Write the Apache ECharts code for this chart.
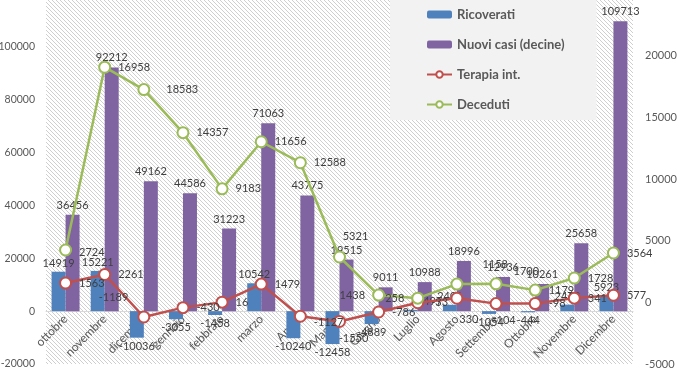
<!DOCTYPE html>
<html>
<head>
<meta charset="utf-8">
<script src="https://cdn.jsdelivr.net/npm/echarts@6/dist/echarts.min.js"></script>
<style>html,body{margin:0;padding:0;background:#fff}#c{width:680px;height:375px}</style>
</head>
<body>
<div id="c"></div>
<script>
const categories = ['ottobre','novembre','dicembre','gennaio','febbraio','marzo','Aprile','Maggio','Giugno','Luglio','Agosto','Settembre','Ottobre','Novembre','Dicembre'];
const ricoverati = [14919, 15221, -10036, -3055, -1458, 10542, -10240, -12458, -4889, 497, 2401, -1054, -444, 2473, 5923];
const nuoviCasi = [36456, 92212, 49162, 44586, 31223, 71063, 43775, 19515, 9011, 10988, 18996, 12936, 10261, 25658, 109713];
const terapia = [1563, 2261, -1189, -430, 16, 1479, -1127, -1550, -786, -33, 330, -104, -98, 341, 577];
const deceduti = [4244, 19065, 17250, 13755, 9200, 13020, 11320, 3675, 585, 340, 1480, 1500, 990, 1970, 4000];
const decedutiLabels = ['2724','16958','18583','14357','9183','11656','12588','5321','1438','258','1158','1700','1179','1728','3564'];
const leftTicks = [-20000, 120000, 20000];
const rightTicks = [-5000, 25000, 5000];

const FONT = 'Lato, "Liberation Sans", sans-serif';
const LBL = '#404040';
const W = 680, H = 375;
const GRID = {left:46, right:47, top:-6, bottom:11};
// put the category axis on the left axis' zero line
const gridH = H - GRID.top - GRID.bottom;
const zeroOffset = -gridH * (0 - leftTicks[0]) / (leftTicks[1] - leftTicks[0]);

// hatch pattern for plot area
const pc = document.createElement('canvas');
pc.width = 4; pc.height = 4;
const pctx = pc.getContext('2d');
pctx.fillStyle = '#ffffff'; pctx.fillRect(0,0,4,4);
pctx.strokeStyle = '#cfcfcf'; pctx.lineWidth = 1;
pctx.beginPath();
pctx.moveTo(-1,-1); pctx.lineTo(5,5);
pctx.moveTo(-1,3); pctx.lineTo(1,5);
pctx.moveTo(3,-1); pctx.lineTo(5,1);
pctx.stroke();

const labelBase = {show:true, color:LBL, fontFamily:FONT, fontSize:11};

const redPos = {2:{position:'left', offset:[-2,-20]}, 6:{position:'right', offset:[0,6]}, 7:{position:'bottom', offset:[14,-2]}, 10:{position:'bottom', offset:[12,2]}, 11:{position:'bottom', offset:[8,-2]}};
const greenPos = {0:{position:'right', offset:[0,2]}, 2:{position:'right', distance:16}, 7:{position:'top', offset:[16,-2]}, 8:{position:'left'}, 9:{position:'left'}, 10:{position:'right', offset:[12,-20]}, 11:{position:'right', offset:[4,-12]}};
const bluePos = {9:{position:'top', offset:[22,0]}};

const plainFmt = v => String(v);

const chart = echarts.init(document.getElementById('c'), null, {renderer:'canvas'});
chart.setOption({
  animation:false,
  grid:Object.assign({outerBoundsMode:'none', containLabel:false, show:true, borderWidth:0, backgroundColor:{image:pc, repeat:'repeat'}}, GRID),
  legend:{
    orient:'vertical', left:390, top:0,
    padding:[8,32,9,36], itemGap:17, itemWidth:25, itemHeight:8,
    backgroundColor:'#f2f2f2',
    textStyle:{color:'#595959', fontWeight:'bold', fontSize:13, fontFamily:FONT},
    data:['Ricoverati','Nuovi casi (decine)','Terapia int.','Deceduti']
  },
  xAxis:{
    type:'category', data:categories, position:'bottom', offset:zeroOffset,
    axisLine:{onZero:false, lineStyle:{color:'#d9d9d9'}},
    axisTick:{show:false},
    axisLabel:{rotate:45, interval:0, color:'#595959', fontSize:12, fontFamily:FONT, margin:6}
  },
  yAxis:[
    {type:'value', min:leftTicks[0], max:leftTicks[1], interval:leftTicks[2], splitLine:{show:false},
     axisLine:{show:false}, axisTick:{show:false}, axisLabel:{color:'#595959', fontSize:10.5, fontFamily:FONT, margin:11, showMaxLabel:false, formatter:plainFmt}},
    {type:'value', min:rightTicks[0], max:rightTicks[1], interval:rightTicks[2], splitLine:{show:false},
     axisLine:{show:false}, axisTick:{show:false}, axisLabel:{color:'#595959', fontSize:11, fontFamily:FONT, margin:12, showMaxLabel:false, formatter:plainFmt}}
  ],
  series:[
    {name:'Ricoverati', type:'bar', barWidth:14, barGap:'0%', itemStyle:{color:'#4f81bd'},
     data:ricoverati.map((v,i)=>({value:v, label:Object.assign({position: v>=0?'top':'bottom'}, bluePos[i]||{})})),
     label:Object.assign({}, labelBase, {distance:3})},
    {name:'Nuovi casi (decine)', type:'bar', barWidth:14, barGap:'0%', itemStyle:{color:'#8064a2'},
     data:nuoviCasi, label:Object.assign({}, labelBase, {position:'top', distance:4})},
    {name:'Terapia int.', type:'line', yAxisIndex:1, symbol:'circle', symbolSize:11,
     lineStyle:{color:'#c0504d', width:2.5}, itemStyle:{color:'#ffffff', borderColor:'#c0504d', borderWidth:2},
     data:terapia.map((v,i)=>({value:v, label:redPos[i]||{}})),
     label:Object.assign({}, labelBase, {position:'right', distance:7})},
    {name:'Deceduti', type:'line', yAxisIndex:1, symbol:'circle', symbolSize:11,
     lineStyle:{color:'#9bbb59', width:2.5}, itemStyle:{color:'#ffffff', borderColor:'#9bbb59', borderWidth:2},
     data:deceduti.map((v,i)=>({value:v, label:greenPos[i]||{}})),
     label:Object.assign({}, labelBase, {position:'right', distance:7, formatter:p=>decedutiLabels[p.dataIndex]})}
  ]
});
</script>
</body>
</html>
